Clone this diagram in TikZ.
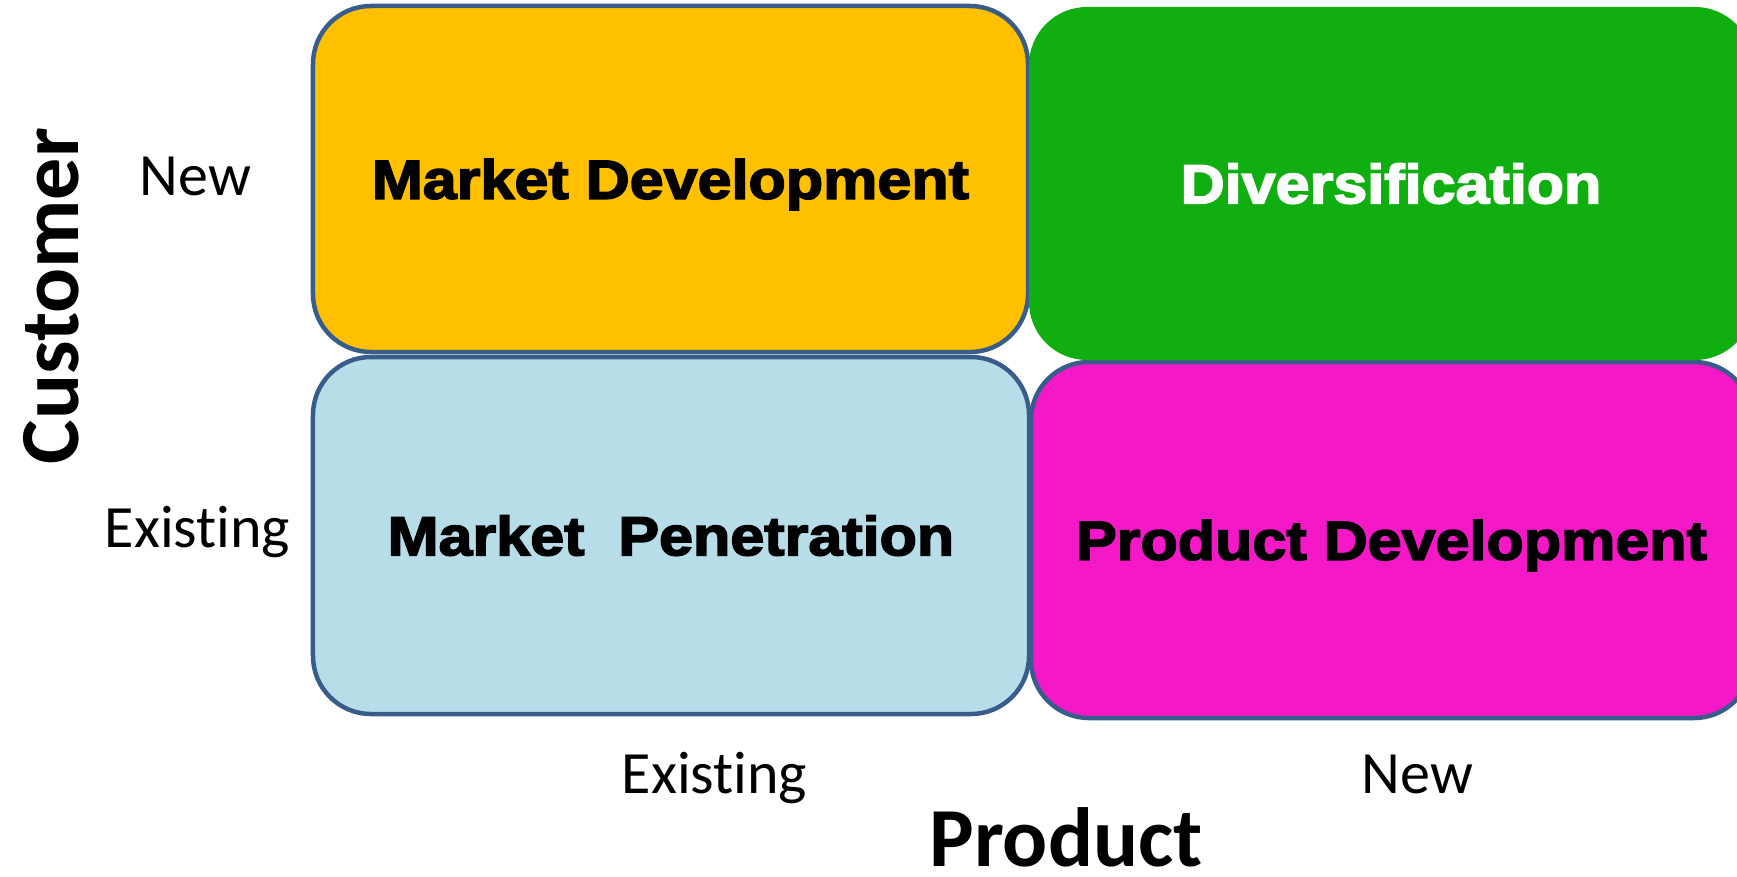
\documentclass[tikz,border=0pt]{standalone}
\usepackage{fontspec}
\setmainfont{Carlito}[Ligatures=NoCommon]
\newfontfamily\heavy{Liberation Sans}[FakeStretch=1.11,BoldFeatures={FakeBold=3}]
\definecolor{qyellow}{HTML}{FFC000}
\definecolor{qgreen}{HTML}{10AE10}
\definecolor{qblue}{HTML}{B7DEE8}
\definecolor{qmagenta}{HTML}{F518C6}
\definecolor{edge}{HTML}{385D8A}
\begin{document}
\begin{tikzpicture}[x=1bp,y=-1bp,
  quad/.style={rectangle, rounded corners=58bp, draw=edge, line width=4.5bp,
    inner sep=0pt, text height=39.4bp, text depth=0pt,
    font=\heavy\bfseries\fontsize{55bp}{60bp}\selectfont},
  axislabel/.style={font=\fontsize{60bp}{66bp}\selectfont, anchor=base, inner sep=0pt},
  axistitle/.style={font=\bfseries\fontsize{84bp}{90bp}\selectfont, anchor=base, inner sep=0pt}]
\useasboundingbox (0,0) rectangle (1737,876);
\fill[white] (0,0) rectangle (1737,876);
\node[quad, fill=qyellow, minimum width=715bp, minimum height=346bp] (md) at (670.5,179) {Market Development};
\node[quad, fill=qblue, minimum width=716bp, minimum height=357bp] (mp) at (671,535.5) {Market\ \ Penetration};
\node[quad, fill=qmagenta, minimum width=721bp, minimum height=356bp] (pd) at (1391.5,540) {Product Development};
\node[quad, draw=none, fill=qgreen, text=white, minimum width=724bp, minimum height=353bp] (dv) at (1391,183.5) {Diversification};
\node[axislabel] (cn) at (195.5,195) {New};
\node[axislabel] (ce) at (197.5,547) {Existing};
\node[axislabel] (pe) at (714.5,793) {Existing};
\node[axislabel] (pn) at (1417.5,793) {New};
\node[axistitle] (pt) at (1066,866) {Product};
\node[axistitle, rotate=90] (ct) at (78,296) {Customer};
\end{tikzpicture}
\end{document}
